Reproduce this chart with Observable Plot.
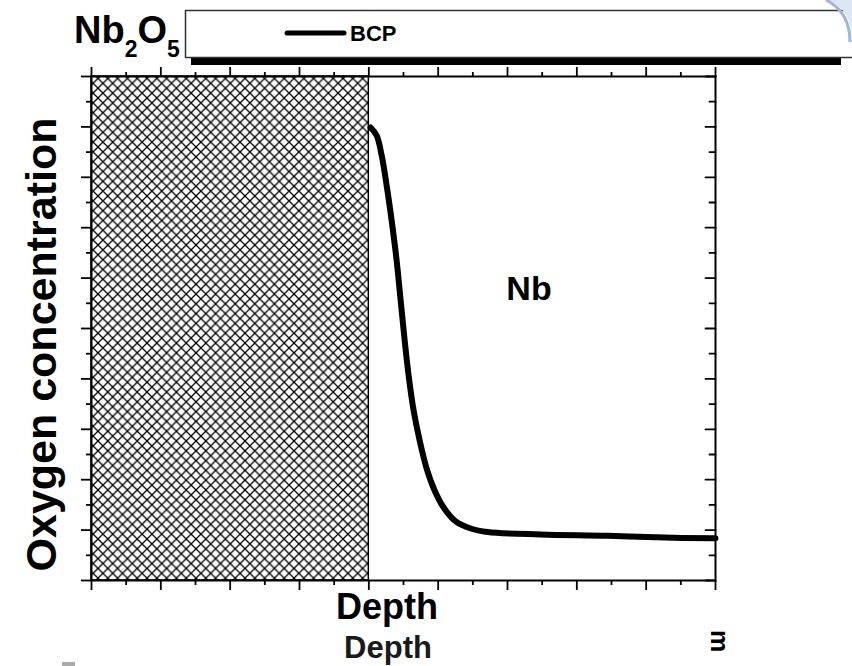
<!DOCTYPE html>
<html>
<head>
<meta charset="utf-8">
<script src="https://cdn.jsdelivr.net/npm/d3@7"></script>
<script src="https://cdn.jsdelivr.net/npm/@observablehq/plot@0.6"></script>
<style>
  html, body { margin: 0; padding: 0; background: #fff; }
  #chart svg { display: block; }
</style>
</head>
<body>
<div id="chart"></div>
<script>
// ---- data (arbitrary units) ----
const depth  = [40.26, 41.13, 41.85, 42.57, 43.29, 44.01, 44.59, 45.17, 45.74, 46.46, 47.33, 48.34, 49.49, 50.79, 52.53, 54.69, 57.14, 64.79, 74.46, 83.98, 90.0];
const oxygen = [89.88, 88.29, 84.33, 78.37, 71.43, 63.49, 55.56, 47.62, 40.67, 33.73, 27.78, 22.22, 17.86, 14.48, 11.71, 10.32, 9.62, 9.13, 8.87, 8.47, 8.39];
const seriesName = "BCP";
const oxideLayer = [{from: 0, to: 40}];
const regionLabels = [{x: 63.1, y: 57.9, text: "Nb"}];
const xMajorTicks = [0, 10, 20, 30, 40, 50, 60, 70, 80, 90];
const xMinorTicks = [5, 15, 25, 35, 45, 55, 65, 75, 85];
const yMajorTicks = [0, 10, 20, 30, 40, 50, 60, 70, 80, 90, 100];
const yMinorTicks = [5, 15, 25, 35, 45, 55, 65, 75, 85, 95];
const xTitle = "Depth";
const yTitle = "Oxygen concentration";

const profile = depth.map((d, i) => ({depth: d, oxygen: oxygen[i]}));
const FONT = "'Liberation Sans', Arial, Helvetica, sans-serif";
const noText = () => "";
const tickLine = {draw(context, l) { context.moveTo(0, 0); context.lineTo(0, -l); }};

const plot = Plot.plot({
  width: 852,
  height: 666,
  marginLeft: 91,
  marginRight: 137,
  marginTop: 76,
  marginBottom: 86,
  x: {domain: [0, 90]},
  y: {domain: [0, 100]},
  style: {fontFamily: FONT, background: "#fff", overflow: "visible", color: "#000"},
  marks: [
    Plot.rect(oxideLayer, {x1: "from", x2: "to", fill: "url(#xhatch)", stroke: "#000", strokeWidth: 1.5}),
    Plot.line(profile, {x: "depth", y: "oxygen", stroke: "#000", strokeWidth: 6, curve: "catmull-rom", strokeLinecap: "round"}),
    Plot.frame({stroke: "#000", strokeWidth: 2}),
    Plot.axisX({anchor: "top", ticks: xMajorTicks, tickSize: 10, tickFormat: noText, label: null, strokeWidth: 1.8}),
    Plot.axisX({anchor: "top", ticks: xMinorTicks, tickSize: 5, tickFormat: noText, label: null, strokeWidth: 1.8}),
    Plot.axisX({anchor: "bottom", ticks: xMajorTicks, tickSize: 10, tickFormat: noText, label: null, strokeWidth: 1.8}),
    Plot.axisX({anchor: "bottom", ticks: xMinorTicks, tickSize: 5, tickFormat: noText, label: null, strokeWidth: 1.8}),
    Plot.axisY({anchor: "left", ticks: yMajorTicks, tickSize: 10, tickFormat: noText, label: null, strokeWidth: 1.8}),
    Plot.axisY({anchor: "left", ticks: yMinorTicks, tickSize: 5, tickFormat: noText, label: null, strokeWidth: 1.8}),
    Plot.vector(yMajorTicks, {x: 90, y: d => d, length: 10, rotate: -90, anchor: "start", strokeWidth: 1.8, stroke: "#000", shape: tickLine}),
    Plot.vector(yMinorTicks, {x: 90, y: d => d, length: 6, rotate: -90, anchor: "start", strokeWidth: 1.8, stroke: "#000", shape: tickLine}),
    Plot.text(regionLabels, {x: "x", y: "y", text: "text", fontSize: 34, fontWeight: "bold", fill: "#000", lineAnchor: "middle"}),
    Plot.text([xTitle], {frameAnchor: "bottom", textAnchor: "middle", dx: -16.5, dy: 38, lineAnchor: "bottom", fontSize: 36, fontWeight: "bold", fill: "#000"}),
    Plot.text([xTitle], {frameAnchor: "bottom", textAnchor: "middle", dx: -15.5, dy: 77, lineAnchor: "bottom", fontSize: 31, fontWeight: "bold", fill: "#1a1a1a"}),
    Plot.text([yTitle], {frameAnchor: "left", textAnchor: "middle", rotate: -90, dx: -36, dy: 16, lineAnchor: "bottom", fontSize: 43, fontWeight: "bold", fill: "#000"})
  ]
});

const svg = d3.select(plot);
const defs = svg.insert("defs", ":first-child");
const P = 9.8;
const pat = defs.append("pattern")
  .attr("id", "xhatch").attr("patternUnits", "userSpaceOnUse")
  .attr("width", P).attr("height", P);
pat.append("rect").attr("width", P).attr("height", P).attr("fill", "#fff");
pat.append("path").attr("d", `M0,0L${P},${P}M${P},0L0,${P}`).attr("stroke", "#000").attr("stroke-width", 1.3);

// legend box with shadow
const lg = svg.append("g").attr("font-family", FONT).attr("text-anchor", "start");
lg.append("rect").attr("x", 191).attr("y", 57).attr("width", 650).attr("height", 8).attr("fill", "#000");
lg.append("rect").attr("x", 185.5).attr("y", 10.5).attr("width", 700).attr("height", 47).attr("fill", "#fff").attr("stroke", "#333").attr("stroke-width", 1.5);
lg.append("line").attr("x1", 287).attr("x2", 344).attr("y1", 33).attr("y2", 33).attr("stroke", "#000").attr("stroke-width", 5).attr("stroke-linecap", "round");
lg.append("text").attr("x", 350).attr("y", 41).attr("font-size", 22).attr("font-weight", "bold").text(seriesName);

// Nb2O5 label
const t = lg.append("text").attr("x", 74).attr("y", 43).attr("font-size", 38).attr("font-weight", "bold");
t.append("tspan").text("Nb");
t.append("tspan").attr("font-size", 23).attr("dy", 14).text("2");
t.append("tspan").attr("dy", -14).text("O");
t.append("tspan").attr("font-size", 23).attr("dy", 14).text("5");

// cut-off unit glyph at bottom right
lg.append("text").attr("transform", "translate(711,630) rotate(90)").attr("font-size", 25).attr("font-weight", "bold").text("m");

// slide decoration at top right
lg.append("path").attr("d", "M828,0 Q852,10 852,40 L852,0 Z").attr("fill", "#dce6f5");
lg.append("path").attr("d", "M826,0 Q850,12 850,42").attr("fill", "none").attr("stroke", "#9fb6dd").attr("stroke-width", 3);
lg.append("rect").attr("x", 62).attr("y", 662).attr("width", 13).attr("height", 4).attr("fill", "#aaa");

document.getElementById("chart").appendChild(plot);
</script>
</body>
</html>
